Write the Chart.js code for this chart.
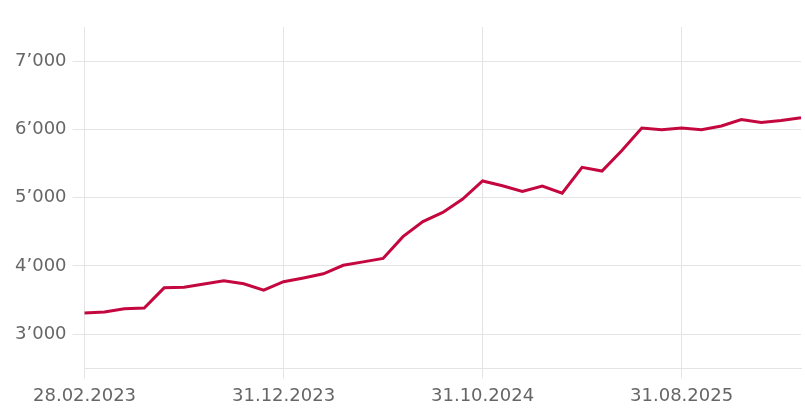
<!DOCTYPE html>
<html>
<head>
<meta charset="utf-8">
<script src="https://cdn.jsdelivr.net/npm/chart.js@4/dist/chart.umd.min.js"></script>
<style>
  html, body { margin: 0; padding: 0; background: #fff; }
  #wrap { width: 805px; height: 409px; }
</style>
</head>
<body>
<div id="wrap"><canvas id="priceChart" width="805" height="409"></canvas></div>
<script>
// Month-end dates (x categories)
const dates = [
    '28.02.2023', '31.03.2023', '30.04.2023', '31.05.2023', '30.06.2023', '31.07.2023',
    '31.08.2023', '30.09.2023', '31.10.2023', '30.11.2023', '31.12.2023', '31.01.2024',
    '29.02.2024', '31.03.2024', '30.04.2024', '31.05.2024', '30.06.2024', '31.07.2024',
    '31.08.2024', '30.09.2024', '31.10.2024', '30.11.2024', '31.12.2024', '31.01.2025',
    '28.02.2025', '31.03.2025', '30.04.2025', '31.05.2025', '30.06.2025', '31.07.2025',
    '31.08.2025', '30.09.2025', '31.10.2025', '30.11.2025', '31.12.2025', '31.01.2026',
    '28.02.2026'
];

// Series values
const values = [
    3310, 3325, 3375, 3385, 3680, 3690,
    3735, 3785, 3740, 3645, 3770, 3825,
    3885, 4010, 4060, 4110, 4430, 4650,
    4785, 4980, 5245, 5175, 5093, 5170,
    5065, 5445, 5390, 5690, 6020, 5995,
    6020, 5995, 6050, 6145, 6100, 6130,
    6170
];

// Axis ticks
const yTicks = [3000, 4000, 5000, 6000, 7000];
const yMin = 2500;
const yMax = 7500;
const xLabelEvery = 10;

const gridColor = '#e4e4e4';
const textColor = '#666666';
const fontSpec = { family: "'DejaVu Sans', sans-serif", size: 18 };

function formatThousands(v) {
    return String(v).replace(/\B(?=(\d{3})+(?!\d))/g, '\u2019');
}

const ctx = document.getElementById('priceChart').getContext('2d');

new Chart(ctx, {
    type: 'line',
    data: {
        labels: dates,
        datasets: [{
            data: values,
            borderColor: '#c4073f',
            borderWidth: 3,
            pointRadius: 0,
            tension: 0,
            fill: false
        }]
    },
    options: {
        responsive: false,
        animation: false,
        layout: { padding: { top: 27, right: 0, left: 9, bottom: -5 } },
        plugins: {
            legend: { display: false },
            tooltip: { enabled: false }
        },
        scales: {
            x: {
                offset: false,
                border: { display: true, color: gridColor, width: 1 },
                grid: {
                    color: (c) => (c.index % xLabelEvery === 0 ? gridColor : 'rgba(0,0,0,0)'),
                    tickLength: 10,
                    drawTicks: true
                },
                // tick padding would otherwise widen the right gap
                afterFit: (scale) => { scale.paddingRight = 4; },
                ticks: {
                    autoSkip: false,
                    maxRotation: 0,
                    minRotation: 0,
                    padding: 7,
                    color: textColor,
                    font: fontSpec,
                    callback: function(value, index) {
                        return index % xLabelEvery === 0 ? dates[index] : '';
                    }
                }
            },
            y: {
                min: yMin,
                max: yMax,
                afterBuildTicks: (scale) => {
                    scale.ticks = [yMin, ...yTicks, yMax].map(v => ({ value: v }));
                },
                border: { display: false },
                grid: {
                    color: (c) => (yTicks.includes(c.tick && c.tick.value) ? gridColor : 'rgba(0,0,0,0)'),
                    tickLength: 12
                },
                ticks: {
                    padding: 6,
                    color: textColor,
                    font: fontSpec,
                    callback: function(value) {
                        return yTicks.includes(value) ? formatThousands(value) : '';
                    }
                }
            }
        }
    }
});
</script>
</body>
</html>
